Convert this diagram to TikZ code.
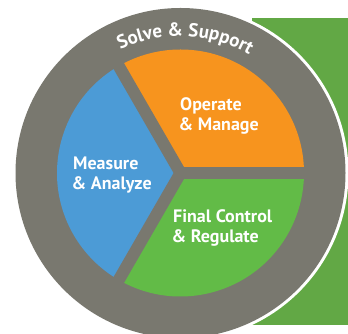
\documentclass[tikz,border=0pt]{standalone}
\usepackage{fontspec}
\setmainfont{PT Sans}
\usepackage{tikz}
\usetikzlibrary{positioning,decorations.text}
\usepackage{xcolor}
\definecolor{ringgray}{HTML}{79786F}
\definecolor{opOrange}{HTML}{F7941E}
\definecolor{measBlue}{HTML}{4C9BD6}
\definecolor{finGreen}{HTML}{62BB47}
\definecolor{backGreen}{HTML}{62A845}

\newcommand{\amp}{\kern-1.5pt\&}

\tikzset{
  lbl/.style={anchor=north west, inner sep=0pt, align=left, text=white,
    font=\bfseries\fontsize{18}{20}\selectfont},
  gap/.style={draw=ringgray, line width=12pt}
}

\begin{document}
\begin{tikzpicture}[x=1pt,y=1pt]
                \useasboundingbox (0,0) rectangle (348,334);
                \fill[backGreen] (252,9) rectangle (348,316);
                \coordinate (c) at (180.5,161);
                \fill[white] (c) circle (168);
                \fill[ringgray] (c) circle (165);
                \fill[opOrange] (c) -- +(0:123.5) arc[start angle=0, end angle=120, radius=123.5] -- cycle;
                \fill[measBlue] (c) -- +(120:123.5) arc[start angle=120, end angle=240, radius=123.5] -- cycle;
                \fill[finGreen] (c) -- +(240:123.5) arc[start angle=240, end angle=360, radius=123.5] -- cycle;
                \coordinate (g1) at ([shift={(0:130)}]c);
                \coordinate (g2) at ([shift={(120:130)}]c);
                \coordinate (g3) at ([shift={(240:130)}]c);
                \path[gap] (c) -- (g1);
                \path[gap] (c) -- (g2);
                \path[gap] (c) -- (g3);
                \path[decorate, decoration={text along path, text align=center, text color=white,
                    text={|\bfseries\fontsize{19}{19}\selectfont|Solve {\&} Support}}]
                    ([shift={(128:137)}]c) arc[start angle=128, end angle=48, radius=137];
                \node[lbl](op) at (180,237){Operate\\\amp{} Manage};
                \node[lbl](meas) at (73,177){Measure\\\amp{} Analyze};
                \node[lbl](fin) at (173,125){Final Control\\\amp{} Regulate};
                \end{tikzpicture}
\end{document}
